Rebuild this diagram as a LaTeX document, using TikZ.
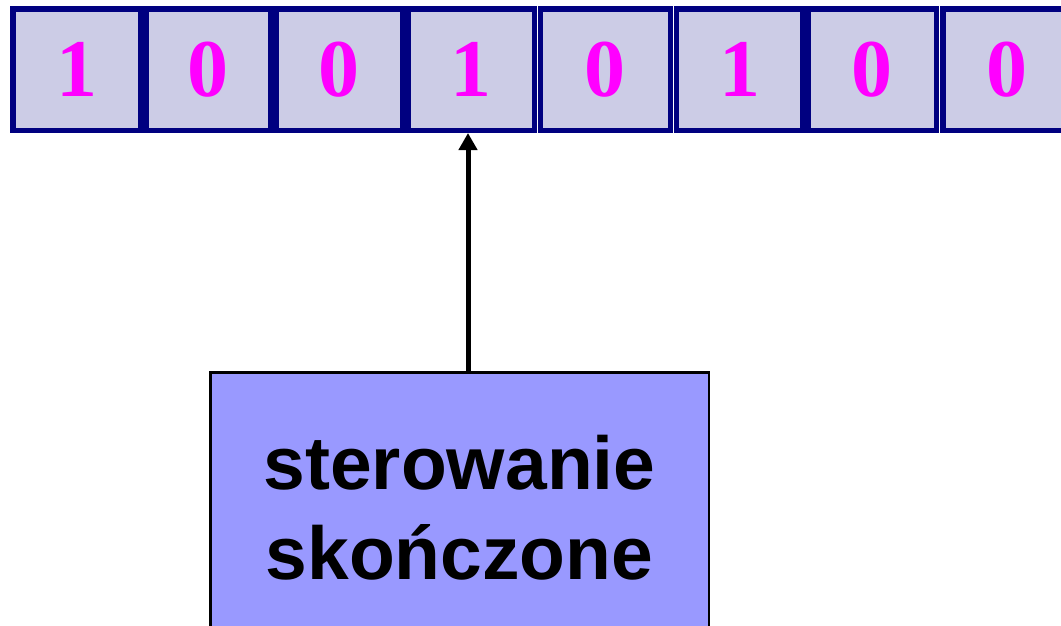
\documentclass[tikz,border=0pt]{standalone}
\usepackage{fontspec}
\setmainfont{Liberation Serif}
\setsansfont{Liberation Sans}
\usetikzlibrary{arrows.meta}

\definecolor{tapefill}{RGB}{204,204,230}
\definecolor{tapeedge}{RGB}{0,0,128}
\definecolor{bitcol}{RGB}{255,0,255}
\definecolor{ctrlfill}{RGB}{153,153,255}

\tikzset{
  cell/.style={draw=tapeedge, fill=tapefill, line width=5.5pt, inner sep=0pt,
    minimum height=121.5pt, text=bitcol,
    font=\bfseries\fontsize{82}{82}\selectfont},
  ctrlbox/.style={draw=black, fill=ctrlfill, line width=2.5pt, inner sep=0pt},
  ctrllabel/.style={align=center, inner sep=0pt,
    font=\sffamily\bfseries\fontsize{75}{90}\selectfont},
  headarrow/.style={line width=5pt, -{Triangle[length=17pt,width=18pt]}}
}

\begin{document}
\begin{tikzpicture}[x=1pt, y=-1pt]
  \useasboundingbox (0,0) rectangle (1061,625);
  \clip (0,0) rectangle (1061,625);

  % tape cells: index / left edge / right edge / symbol
  \foreach \i/\l/\r/\d in {1/10/143.3/1, 2/143.3/273.3/0, 3/273.3/405.3/0,
      4/405.3/537/1, 5/537.7/673/0, 6/673.8/805.3/1, 7/805.3/939/0,
      8/940/1073/0}
    \node[cell, minimum width={\r-\l-5.5}] (c\i) at ({(\l+\r)/2},69.5) {\d};

  % finite control unit (extends below the lower edge)
  \node[ctrlbox, minimum width=498.5pt, minimum height=327.5pt] (ctrl)
    at (459.5,536) {};
  \node[ctrllabel] (ctrltext) at (459.5,508) {sterowanie\\skończone};

  % read head pointing at the current cell
  \coordinate (head) at (468,371);
  \draw[headarrow] (head) -- (head |- c4.south);
\end{tikzpicture}
\end{document}
